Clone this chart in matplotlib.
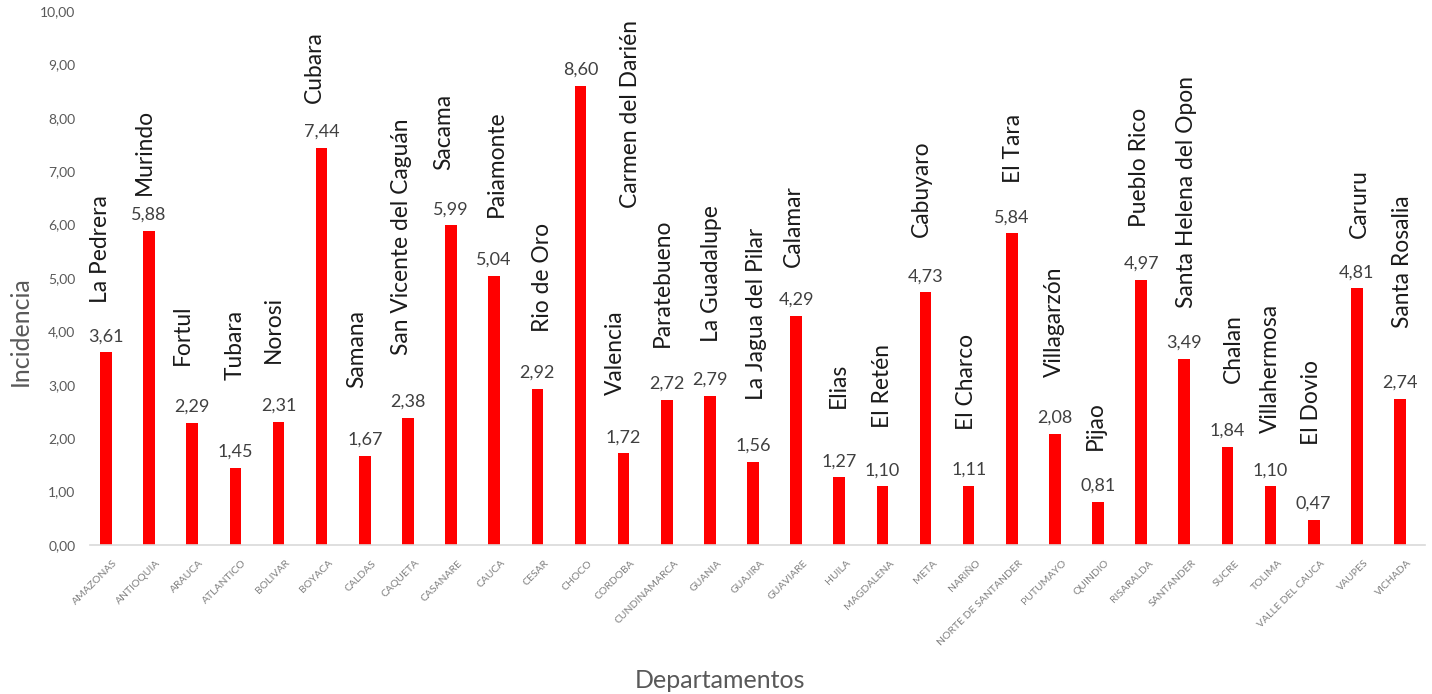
import matplotlib
matplotlib.use("Agg")
import matplotlib.pyplot as plt
from matplotlib.patches import Rectangle
from matplotlib.transforms import ScaledTranslation

# Departamentos and their incidence value
departamentos = [
    "AMAZONAS", "ANTIOQUIA", "ARAUCA", "ATLANTICO", "BOLIVAR", "BOYACA",
    "CALDAS", "CAQUETA", "CASANARE", "CAUCA", "CESAR", "CHOCO", "CORDOBA",
    "CUNDINAMARCA", "GUANIA", "GUAJIRA", "GUAVIARE", "HUILA", "MAGDALENA",
    "META", "NARIÑO", "NORTE DE SANTANDER", "PUTUMAYO", "QUINDIO",
    "RISARALDA", "SANTANDER", "SUCRE", "TOLIMA", "VALLE DEL CAUCA",
    "VAUPES", "VICHADA",
]
incidencia = [
    3.61, 5.88, 2.29, 1.45, 2.31, 7.44, 1.67, 2.38, 5.99, 5.04, 2.92, 8.60,
    1.72, 2.72, 2.79, 1.56, 4.29, 1.27, 1.10, 4.73, 1.11, 5.84, 2.08, 0.81,
    4.97, 3.49, 1.84, 1.10, 0.47, 4.81, 2.74,
]
# Municipality with the highest incidence in each departamento
municipios = [
    "La Pedrera", "Murindo", "Fortul", "Tubara", "Norosi", "Cubara",
    "Samana", "San Vicente del Caguán", "Sacama", "Paiamonte", "Rio de Oro",
    "Carmen del Darién", "Valencia", "Paratebueno", "La Guadalupe",
    "La Jagua del Pilar", "Calamar", "Elias", "El Retén", "Cabuyaro",
    "El Charco", "El Tara", "Villagarzón", "Pijao", "Pueblo Rico",
    "Santa Helena del Opon", "Chalan", "Villahermosa", "El Dovio", "Caruru",
    "Santa Rosalia",
]

# Placement of the municipality labels: horizontal shift (in categories)
# and the height of the label's lower end (in axis units)
name_dx = [
    -0.12, -0.10, -0.22, 0.00, -0.13, -0.16, -0.18, -0.16, -0.16, 0.06, 0.13,
    1.15, -0.18, -0.09, 0.03, 0.09, -0.07, -0.03, 0.00, -0.10, -0.04, 0.03,
    0.00, -0.07, -0.03, 0.04, 0.13, 0.00, -0.04, 0.07, 0.05,
]
name_y = [
    4.53, 6.55, 3.37, 3.09, 3.41, 8.28, 2.94, 3.56, 7.02, 6.14, 3.99,
    6.31, 2.81, 3.71, 3.80, 2.72, 5.21, 2.57, 2.19, 5.77, 2.15, 6.78,
    3.15, 1.78, 5.96, 4.44, 3.03, 2.10, 1.87, 5.75, 4.06,
]

FONT = ["Lato", "DejaVu Sans"]
plt.rcParams["font.family"] = FONT

W, H, DPI = 1432, 694, 100
fig = plt.figure(figsize=(W / DPI, H / DPI), dpi=DPI)
ax = fig.add_axes([90 / W, 1 - 545 / H, 1335 / W, 534 / H])

x = list(range(len(departamentos)))
ax.bar(x, incidencia, width=0.27, color="#FF0000", zorder=2)

ax.set_xlim(-0.371, 30.58)
ax.set_ylim(0, 10)

# value labels
for xi, v in zip(x, incidencia):
    ax.annotate(f"{v:.2f}".replace(".", ","), (xi, v), xytext=(0, 8),
                textcoords="offset pixels", ha="center", va="bottom",
                fontsize=13, color="#404040")

# municipality labels
for xi, name, dx, yb in zip(x, municipios, name_dx, name_y):
    t = ax.text(xi + dx, yb, name, rotation=90, ha="center", va="bottom",
                fontsize=16.4, color="#1a1a1a")
    if name == "Calamar":
        # the label's top is cut off by the space available
        clip = Rectangle((xi - 1, 0), 2, 6.70, transform=ax.transData)
        t.set_clip_path(clip)
        t.set_clip_on(True)

# axes styling
for side in ["top", "right", "left"]:
    ax.spines[side].set_visible(False)
ax.spines["bottom"].set_color("#d9d9d9")
ax.spines["bottom"].set_linewidth(1.2)

ax.set_yticks(range(0, 11))
ax.set_yticklabels([f"{t:.2f}".replace(".", ",") for t in range(0, 11)])
ax.tick_params(axis="y", length=0, pad=10.5, labelsize=10, labelcolor="#595959")

ax.set_xticks(x)
ax.set_xticklabels(departamentos, rotation=45, ha="right", va="center",
                   rotation_mode="anchor")
ax.tick_params(axis="x", length=0, pad=12, labelsize=7.5, labelcolor="#808080")
shift = ScaledTranslation(10 / DPI, 0, fig.dpi_scale_trans)
for lab in ax.get_xticklabels():
    lab.set_transform(lab.get_transform() + shift)

fig.text(20 / W, 1 - 331 / H, "Incidencia", rotation=90, ha="center",
         va="center", fontsize=18, color="#595959")
fig.text(720 / W, 1 - 681 / H, "Departamentos", ha="center", va="center",
         fontsize=18, color="#595959")

fig.savefig("out.png", dpi=DPI)
